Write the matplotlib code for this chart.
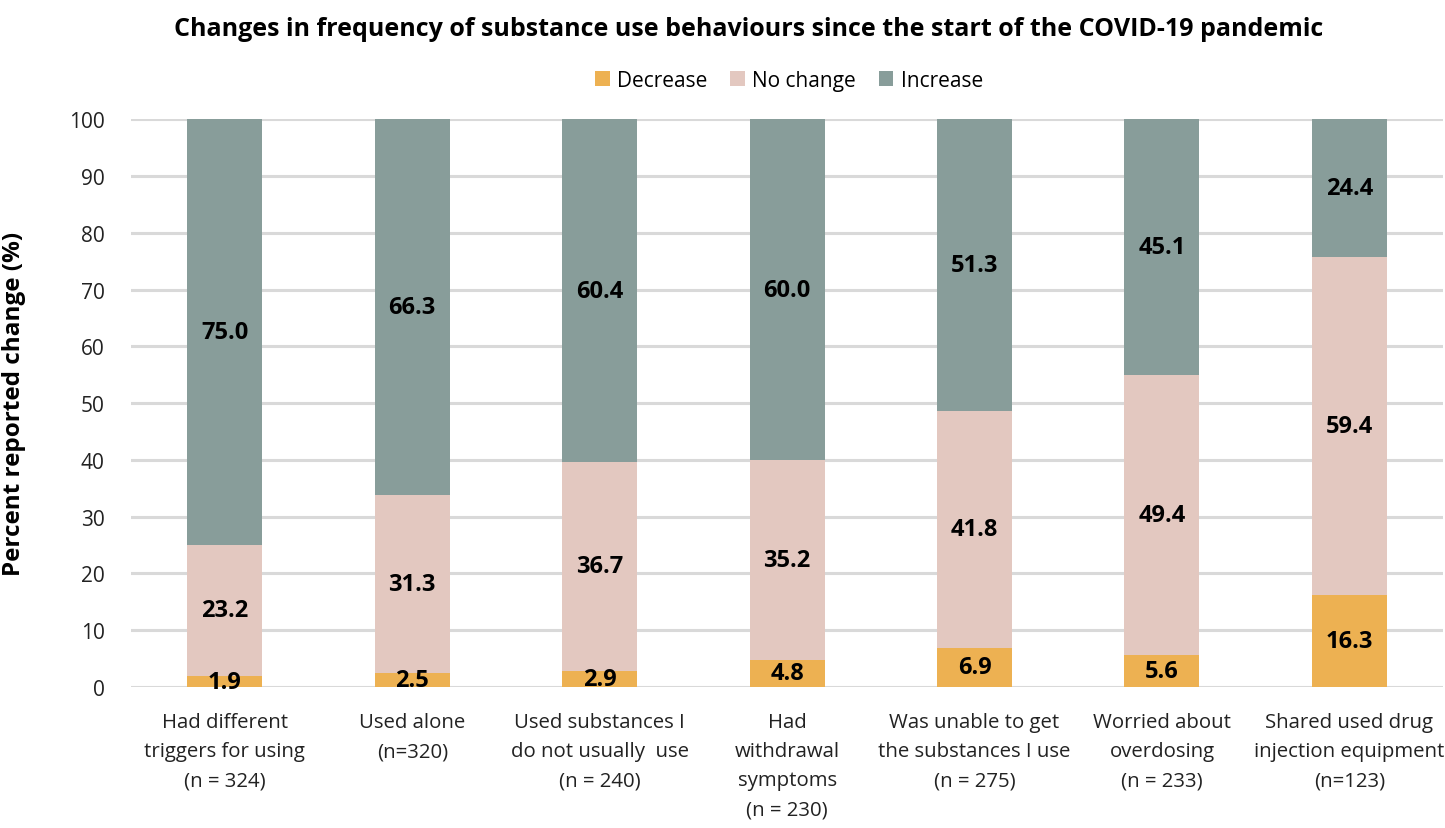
import matplotlib
matplotlib.use("Agg")
import matplotlib.pyplot as plt
import numpy as np

plt.rcParams['font.family'] = ['Open Sans', 'DejaVu Sans']

categories = [
    "Had different\ntriggers for using\n(n = 324)",
    "Used alone\n(n=320)",
    "Used substances I\ndo not usually  use\n(n = 240)",
    "Had\nwithdrawal\nsymptoms\n(n = 230)",
    "Was unable to get\nthe substances I use\n(n = 275)",
    "Worried about\noverdosing\n(n = 233)",
    "Shared used drug\ninjection equipment\n(n=123)",
]
decrease = [1.9, 2.5, 2.9, 4.8, 6.9, 5.6, 16.3]
no_change = [23.2, 31.3, 36.7, 35.2, 41.8, 49.4, 59.4]
increase = [75.0, 66.3, 60.4, 60.0, 51.3, 45.1, 24.4]
series_names = ["Decrease", "No change", "Increase"]
colors = ["#EDB152", "#E3C8C0", "#889D9A"]

fig = plt.figure(figsize=(14.45, 8.29), dpi=100)
ax = fig.add_axes([0.0907, 0.170, 0.908, 0.685])

x = np.arange(len(categories))
bottom = np.zeros(len(categories))
for name, vals, col in zip(series_names, [decrease, no_change, increase], colors):
    vals = np.array(vals)
    ax.bar(x, vals, width=0.4, bottom=bottom, color=col, label=name, zorder=3)
    for xi, b, v in zip(x, bottom, vals):
        ax.text(xi, b + v / 2, f"{v:.1f}", ha="center", va="center",
                fontsize=17, fontweight="bold", color="black", zorder=4)
    bottom = bottom + vals

ax.set_xlim(-0.5, len(categories) - 0.5)
ax.set_ylim(0, 100)
ax.set_yticks(np.arange(0, 101, 10))
ax.yaxis.grid(True, color="#D9D9D9", linewidth=2.2, zorder=0)
ax.set_axisbelow(True)
for s in ax.spines.values():
    s.set_visible(False)
ax.tick_params(axis="both", length=0, labelsize=15, colors="#222222")
ax.tick_params(axis="y", pad=19)
ax.set_yticklabels([str(v) for v in range(0, 101, 10)], ha="right")
ax.set_xticks(x)
ax.set_xticklabels(categories, fontsize=14.7, linespacing=1.6)
ax.tick_params(axis="x", pad=18)
ax.set_ylabel("Percent reported change (%)", fontsize=17.5, fontweight="bold")
ax.yaxis.set_label_coords(-0.080, 0.5)

fig.suptitle("Changes in frequency of substance use behaviours since the start of the COVID-19 pandemic",
             fontsize=18, fontweight="bold", x=0.518, y=0.98)
fig.legend(loc="upper center", bbox_to_anchor=(0.546, 0.937), ncol=3, frameon=False,
           fontsize=15, handlelength=0.7, handleheight=0.7, columnspacing=1.1, handletextpad=0.35)

fig.savefig("out.png", dpi=100)
